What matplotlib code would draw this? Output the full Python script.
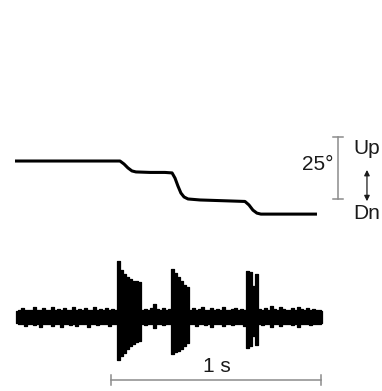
import numpy as np
import matplotlib
matplotlib.use("Agg")
import matplotlib.pyplot as plt

# ---- Eye / head position trace (degrees vs time in s) ----
pos_t = [0.0, 0.500, 0.519, 0.538, 0.557, 0.576, 0.643, 0.714, 0.748, 0.762,
         0.776, 0.790, 0.805, 0.824, 0.881, 1.024, 1.095, 1.114, 1.133, 1.152,
         1.171, 1.438]
pos_deg = [0.0, 0.0, -1.2, -2.8, -4.0, -4.4, -4.6, -4.6, -4.8, -6.9,
           -10.1, -12.9, -14.5, -15.3, -15.7, -16.1, -16.3, -17.7, -19.8, -21.0,
           -21.4, -21.4]

# ---- EMG envelope (a.u.), sampled every 1/70 s ----
emg_dt = 1 / 70
emg_hi = [5, 6, 8, 6, 6, 6, 9, 6, 6, 8,
          6, 6, 9, 6, 7, 6, 8, 6, 6, 9,
          6, 7, 6, 8, 6, 6, 9, 6, 7, 6,
          8, 6, 7, 6,
          55, 46, 42, 39, 37, 35, 35, 34,
          6, 7, 6, 8, 12, 7, 6, 8, 6, 7,
          47, 43, 39, 35, 31, 29,
          6, 8, 6, 7, 9, 6, 6, 8, 6, 7, 6, 9, 6, 6, 7, 8, 6, 7, 6,
          45, 44, 30, 42,
          7, 6, 8, 6, 10, 7, 6, 9, 7, 6, 6, 8, 6, 9, 7, 6, 8, 6, 7, 6, 6, 5]
emg_lo = [-7, -8, -8, -10, -8, -8, -9, -8, -11, -8,
          -8, -8, -10, -8, -8, -11, -8, -8, -9, -8,
          -10, -8, -8, -8, -11, -8, -8, -9, -8, -8,
          -8, -10, -8, -8,
          -44, -40, -37, -33, -30, -28, -26, -25,
          -8, -9, -8, -8, -12, -8, -8, -9, -8, -8,
          -38, -36, -35, -33, -30, -27,
          -8, -8, -10, -8, -8, -9, -8, -11, -8, -8, -8, -10, -8, -8, -9, -8, -8, -8, -10,
          -32, -30, -20, -29,
          -8, -9, -8, -8, -11, -8, -8, -10, -8, -8, -8, -9, -8, -11, -8, -8, -8, -9, -8, -8, -8, -7]
emg_t0 = 0.005

# ---- scale bars / labels ----
angle_bar_deg = 25
time_bar_s = 1
angle_label = "25°"
time_label = "1 s"
up_label = "Up"
dn_label = "Dn"

plt.rcParams['font.family'] = ['Liberation Sans', 'DejaVu Sans']

fig = plt.figure(figsize=(3.82, 3.91), dpi=100)
xlim = (-0.0714, 1.7476)

ax_pos = fig.add_axes([0, 0, 1, 1])
ax_pos.set_xlim(*xlim)
ax_pos.set_ylim(-92.7, 64.9)
ax_pos.axis("off")

ax_emg = fig.add_axes([0, 0, 1, 1])
ax_emg.set_xlim(*xlim)
ax_emg.set_ylim(-75, 316)
ax_emg.axis("off")
ax_emg.patch.set_alpha(0)

txt_color = "#1a1a1a"
fs = 15

# position trace
ax_pos.plot(pos_t, pos_deg, color="black", lw=2.2, solid_capstyle="butt",
            solid_joinstyle="round")

# angle scale bar
gray = "#8c8c8c"
bx = 1.538
b_lo, b_hi = -15.3, -15.3 + angle_bar_deg
ax_pos.plot([bx, bx], [b_lo, b_hi], color=gray, lw=1.1)
for yy in (b_lo, b_hi):
    ax_pos.plot([bx - 0.024, bx + 0.024], [yy, yy], color=gray, lw=1.1)
ax_pos.text(1.518, -1.6, angle_label, ha="right", va="center", fontsize=fs,
            color=txt_color)
ax_pos.text(1.612, 5.0, up_label, ha="left", va="center", fontsize=fs,
            color=txt_color)
ax_pos.text(1.612, -21.2, dn_label, ha="left", va="center", fontsize=fs,
            color=txt_color)
ax_pos.annotate("", xy=(1.676, -16.2), xytext=(1.676, -3.6),
                arrowprops=dict(arrowstyle="<|-|>", color=txt_color, lw=0.9,
                                mutation_scale=8, shrinkA=0, shrinkB=0))

# EMG trace
n = len(emg_hi)
emg_t = emg_t0 + np.arange(n) * emg_dt
ax_emg.fill_between(emg_t, emg_lo, emg_hi, step="mid", color="black", lw=0.9,
                    edgecolor="black")

# time scale bar
tb0 = 0.457
tb1 = tb0 + time_bar_s
ty = -64
ax_emg.plot([tb0, tb1], [ty, ty], color=gray, lw=1.1)
for xx in (tb0, tb1):
    ax_emg.plot([xx, xx], [ty - 5, ty + 5], color=gray, lw=1.1)
ax_emg.text(0.962, -51, time_label, ha="center", va="center", fontsize=fs,
            color=txt_color)

fig.savefig("out.png", dpi=100)
